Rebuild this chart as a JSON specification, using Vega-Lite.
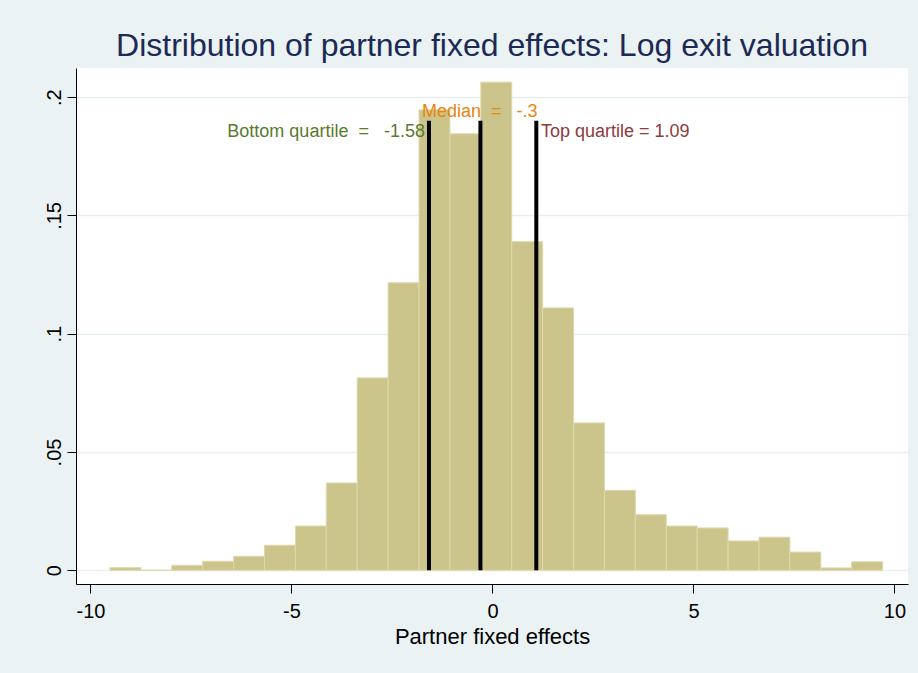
{
  "$schema": "https://vega.github.io/schema/vega-lite/v6.json",
  "width": 832,
  "height": 516,
  "autosize": {"type": "none"},
  "padding": {"left": 76, "top": 68, "right": 10, "bottom": 89},
  "background": "#EAF2F3",
  "config": {
    "font": "Liberation Sans",
    "view": {"fill": "white", "stroke": null},
    "axis": {"labelFont": "Liberation Sans", "titleFont": "Liberation Sans"}
  },
  "title": {
    "text": "Distribution of partner fixed effects: Log exit valuation",
    "fontSize": 32,
    "fontWeight": "normal",
    "color": "#1C2A55",
    "anchor": "middle",
    "frame": "group",
    "baseline": "alphabetic",
    "offset": -20
  },
  "datasets": {
    "bins": [
      {"bin_start": -9.515, "bin_end": -8.746, "density": 0.0011},
      {"bin_start": -8.746, "bin_end": -7.977, "density": 0.0},
      {"bin_start": -7.977, "bin_end": -7.209, "density": 0.0021},
      {"bin_start": -7.209, "bin_end": -6.440, "density": 0.0038},
      {"bin_start": -6.440, "bin_end": -5.671, "density": 0.0059},
      {"bin_start": -5.671, "bin_end": -4.902, "density": 0.0106},
      {"bin_start": -4.902, "bin_end": -4.134, "density": 0.0187},
      {"bin_start": -4.134, "bin_end": -3.365, "density": 0.0369},
      {"bin_start": -3.365, "bin_end": -2.596, "density": 0.0813},
      {"bin_start": -2.596, "bin_end": -1.827, "density": 0.1215},
      {"bin_start": -1.827, "bin_end": -1.059, "density": 0.1946},
      {"bin_start": -1.059, "bin_end": -0.290, "density": 0.1845},
      {"bin_start": -0.290, "bin_end": 0.479, "density": 0.2063},
      {"bin_start": 0.479, "bin_end": 1.248, "density": 0.1389},
      {"bin_start": 1.248, "bin_end": 2.017, "density": 0.1109},
      {"bin_start": 2.017, "bin_end": 2.785, "density": 0.0623},
      {"bin_start": 2.785, "bin_end": 3.554, "density": 0.0338},
      {"bin_start": 3.554, "bin_end": 4.323, "density": 0.0235},
      {"bin_start": 4.323, "bin_end": 5.092, "density": 0.0187},
      {"bin_start": 5.092, "bin_end": 5.861, "density": 0.0179},
      {"bin_start": 5.861, "bin_end": 6.629, "density": 0.0124},
      {"bin_start": 6.629, "bin_end": 7.398, "density": 0.0140},
      {"bin_start": 7.398, "bin_end": 8.167, "density": 0.0077},
      {"bin_start": 8.167, "bin_end": 8.936, "density": 0.0010},
      {"bin_start": 8.936, "bin_end": 9.705, "density": 0.0036}
    ],
    "quartiles": [
      {"name": "Bottom quartile", "value": -1.58},
      {"name": "Median", "value": -0.3},
      {"name": "Top quartile", "value": 1.09}
    ]
  },
  "layer": [
    {
      "data": {"name": "bins"},
      "mark": {"type": "rect", "fill": "#CCC58B", "stroke": "#DDD8AC", "strokeWidth": 1},
      "encoding": {
        "x": {
          "field": "bin_start",
          "type": "quantitative",
          "scale": {"domain": [-10.36, 10.336], "nice": false, "zero": false},
          "axis": {
            "values": [-10, -5, 0, 5, 10],
            "labelExpr": "toString(datum.value)",
            "title": "Partner fixed effects",
            "titleFontSize": 22,
            "titleFontWeight": "normal",
            "titleColor": "black",
            "titlePadding": 5,
            "labelFontSize": 20,
            "labelColor": "black",
            "labelPadding": 8,
            "tickSize": 9,
            "tickColor": "black",
            "domainColor": "black",
            "grid": false
          }
        },
        "x2": {"field": "bin_end"},
        "y": {
          "field": "density",
          "type": "quantitative",
          "scale": {"domain": [-0.00579, 0.2123], "nice": false, "zero": false},
          "axis": {
            "values": [0, 0.05, 0.1, 0.15, 0.2],
            "labelExpr": "datum.value == 0 ? '0' : replace(format(datum.value, '~g'), '0.', '.')",
            "title": null,
            "labelAngle": -90,
            "labelAlign": "center",
            "labelBaseline": "bottom",
            "labelFontSize": 20,
            "labelColor": "black",
            "labelPadding": 3,
            "tickSize": 9,
            "tickColor": "black",
            "domainColor": "black",
            "grid": true,
            "gridColor": "#E6EFF1",
            "gridWidth": 1.5
          }
        },
        "y2": {"datum": 0}
      }
    },
    {
      "data": {"name": "quartiles"},
      "mark": {"type": "rule", "color": "black", "strokeWidth": 4},
      "encoding": {
        "x": {"field": "value", "type": "quantitative"},
        "y": {"datum": 0},
        "y2": {"datum": 0.19}
      }
    },
    {
      "data": {"values": [{"x": -1.68, "y": 0.1854, "label": "Bottom quartile\u00a0 =\u00a0\u00a0 -1.58"}]},
      "mark": {"type": "text", "align": "right", "baseline": "middle", "fontSize": 18, "color": "#5A7A2E", "font": "Liberation Sans"},
      "encoding": {
        "x": {"field": "x", "type": "quantitative"},
        "y": {"field": "y", "type": "quantitative"},
        "text": {"field": "label"}
      }
    },
    {
      "data": {"values": [{"x": -1.755, "y": 0.1938, "label": "Median\u00a0 =\u00a0\u00a0 -.3"}]},
      "mark": {"type": "text", "align": "left", "baseline": "middle", "fontSize": 18, "color": "#E8860F", "font": "Liberation Sans"},
      "encoding": {
        "x": {"field": "x", "type": "quantitative"},
        "y": {"field": "y", "type": "quantitative"},
        "text": {"field": "label"}
      }
    },
    {
      "data": {"values": [{"x": 1.206, "y": 0.1854, "label": "Top quartile = 1.09"}]},
      "mark": {"type": "text", "align": "left", "baseline": "middle", "fontSize": 18, "color": "#8E3A40", "font": "Liberation Sans"},
      "encoding": {
        "x": {"field": "x", "type": "quantitative"},
        "y": {"field": "y", "type": "quantitative"},
        "text": {"field": "label"}
      }
    }
  ]
}
